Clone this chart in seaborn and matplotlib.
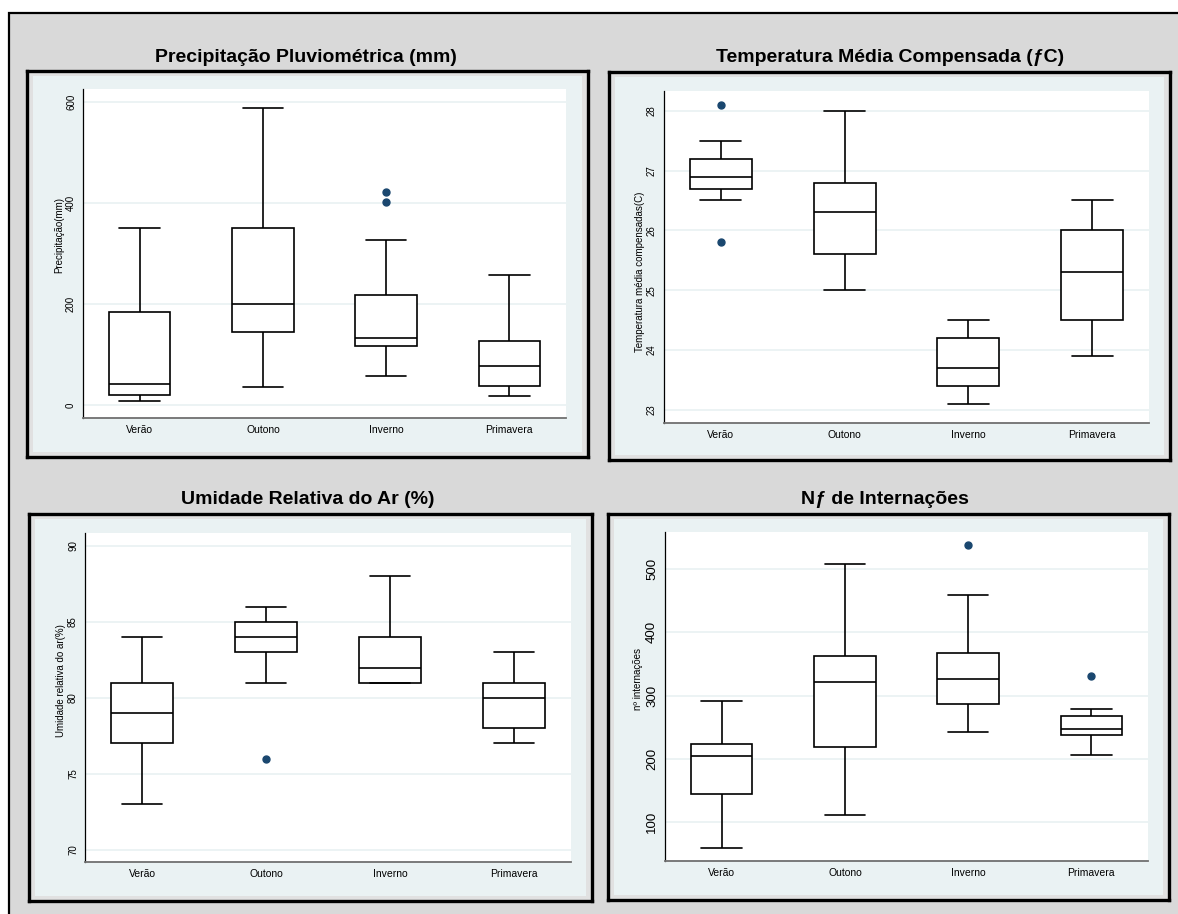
import matplotlib
matplotlib.use('Agg')
import matplotlib.pyplot as plt
import seaborn as sns
import pandas as pd
from matplotlib.patches import Rectangle

W, H = 1178, 914

seasons = ['Verão', 'Outono', 'Inverno', 'Primavera']

# precipitação (mm): whisker ends, quartiles, median, outliers
prec_low = [7, 35, 58, 18]
prec_q1 = [19, 144, 116, 38]
prec_med = [42, 199, 133, 78]
prec_q3 = [184, 350, 218, 126]
prec_high = [350, 588, 327, 258]
prec_out = [[], [], [402, 421], []]

# temperatura média compensada
temp_low = [26.5, 25.0, 23.1, 23.9]
temp_q1 = [26.7, 25.6, 23.4, 24.5]
temp_med = [26.9, 26.3, 23.7, 25.3]
temp_q3 = [27.2, 26.8, 24.2, 26.0]
temp_high = [27.5, 28.0, 24.5, 26.5]
temp_out = [[25.8, 28.1], [], [], []]

# umidade relativa do ar
umid_low = [73, 81, 81, 77]
umid_q1 = [77, 83, 81, 78]
umid_med = [79, 84, 82, 80]
umid_q3 = [81, 85, 84, 81]
umid_high = [84, 86, 88, 83]
umid_out = [[], [76], [], []]

# nº de internações
intern_low = [60, 111, 243, 206]
intern_q1 = [144, 219, 286, 237]
intern_med = [204, 321, 326, 248]
intern_q3 = [223, 363, 367, 267]
intern_high = [291, 508, 458, 279]
intern_out = [[], [], [537], [331]]

NAVY = '#1a476f'
PLOT_BG = '#eaf2f3'
PAGE_BG = '#d9d9d9'


def season_sample(low, q1, med, q3, high, out):
    """13 values whose boxplot stats give back the five numbers + outliers."""
    lows = sorted(v for v in out if v < q1)
    highs = sorted(v for v in out if v > q3)
    low_side = (lows + [low] * 3)[:3]
    high_side = ([high] * 3 + highs)[-3:]
    return low_side + [q1] * 3 + [med] + [q3] * 3 + high_side


def build_frame(low, q1, med, q3, high, out):
    rows = []
    for i, s in enumerate(seasons):
        for v in season_sample(low[i], q1[i], med[i], q3[i], high[i], out[i]):
            rows.append({'estacao': s, 'valor': v})
    return pd.DataFrame(rows)


def px_rect(l, t, r, b):
    return [l / W, 1 - b / H, (r - l) / W, (b - t) / H]


def draw_panel(fig, df, title, title_xy, frame, axes_box, ylabel, ylim, yticks,
               ytick_size, ylabel_px, ylabel_y):
    # black framed panel with light background
    fr = fig.add_axes(px_rect(*frame))
    fr.set_facecolor('#e1e1e1')
    fr.set_xticks([])
    fr.set_yticks([])
    for sp in fr.spines.values():
        sp.set_color('black')
        sp.set_linewidth(2.4)
    l, t, r, b = frame
    inner = fig.add_axes(px_rect(l + 6, t + 5, r - 6, b - 5))
    inner.set_facecolor(PLOT_BG)
    inner.set_xticks([])
    inner.set_yticks([])
    for sp in inner.spines.values():
        sp.set_visible(False)

    ax = fig.add_axes(px_rect(*axes_box))
    ax.set_facecolor('white')
    sns.boxplot(data=df, x='estacao', y='valor', order=seasons, ax=ax,
                color='white', saturation=1, linecolor='black', linewidth=1.2,
                width=0.5, whis=1.6, fliersize=5, capwidths=0.33,
                flierprops=dict(marker='o', markerfacecolor=NAVY,
                                markeredgecolor=NAVY))
    ax.set_xlim(-0.46, 3.46)
    ax.set_ylim(*ylim)
    ax.set_yticks(yticks)
    ax.yaxis.grid(True, color=PLOT_BG, linewidth=1.3)
    ax.xaxis.grid(False)
    ax.set_axisbelow(True)
    for side in ['top', 'right']:
        ax.spines[side].set_visible(False)
    ax.spines['left'].set_color('black')
    ax.spines['left'].set_linewidth(0.9)
    ax.spines['bottom'].set_color('#707070')
    ax.spines['bottom'].set_linewidth(1.3)
    ax.tick_params(axis='y', length=3.5, width=0.8, pad=1.5,
                   labelsize=ytick_size, labelrotation=90, colors='black')
    for lab in ax.get_yticklabels():
        lab.set_va('center')
    ax.tick_params(axis='x', length=0, pad=5, labelsize=7.5, colors='black')
    ax.set_xlabel('')
    ax.set_ylabel(ylabel, fontsize=7, va='center', color='black')
    width_px = axes_box[2] - axes_box[0]
    ax.yaxis.set_label_coords(-ylabel_px / width_px, ylabel_y)
    fig.text(title_xy[0] / W, 1 - title_xy[1] / H, title, ha='center',
             va='center', fontsize=14, fontweight='bold', color='black')
    return ax


sns.set_theme(style='white')
plt.rcParams['font.family'] = ['Liberation Sans', 'DejaVu Sans']

fig = plt.figure(figsize=(W / 100, H / 100), dpi=100)
fig.patch.set_facecolor('white')
fig.patches.append(Rectangle((9 / W, -0.02), 1.0, 1.02 - 13 / H,
                             transform=fig.transFigure, facecolor=PAGE_BG,
                             edgecolor='black', linewidth=1.6, zorder=-10))

draw_panel(fig, build_frame(prec_low, prec_q1, prec_med, prec_q3, prec_high, prec_out),
           'Precipitação Pluviométrica (mm)', (306, 57),
           (27, 71, 588, 457), (83, 89, 566, 418),
           'Precipitação(mm)', (-26, 626), [0, 200, 400, 600], 7,
           24, 0.556)

draw_panel(fig, build_frame(temp_low, temp_q1, temp_med, temp_q3, temp_high, temp_out),
           'Temperatura Média Compensada (ƒC)', (890, 57),
           (609, 72, 1170, 460), (664, 91, 1149, 423),
           'Temperatura média compensadas(C)', (22.78, 28.33),
           [23, 24, 25, 26, 27, 28], 7, 24, 0.455)

draw_panel(fig, build_frame(umid_low, umid_q1, umid_med, umid_q3, umid_high, umid_out),
           'Umidade Relativa do Ar (%)', (308, 499),
           (29, 514, 592, 901), (85, 533, 571, 862),
           'Umidade relativa do ar(%)', (69.19, 90.86),
           [70, 75, 80, 85, 90], 7, 24, 0.553)

draw_panel(fig, build_frame(intern_low, intern_q1, intern_med, intern_q3, intern_high, intern_out),
           'Nƒ de Internações', (885, 500),
           (608, 514, 1169, 900), (665, 532, 1148, 861),
           'nº internações', (39, 558), [100, 200, 300, 400, 500], 9.5,
           27, 0.553)

fig.savefig('out.png', dpi=100)
plt.close(fig)
